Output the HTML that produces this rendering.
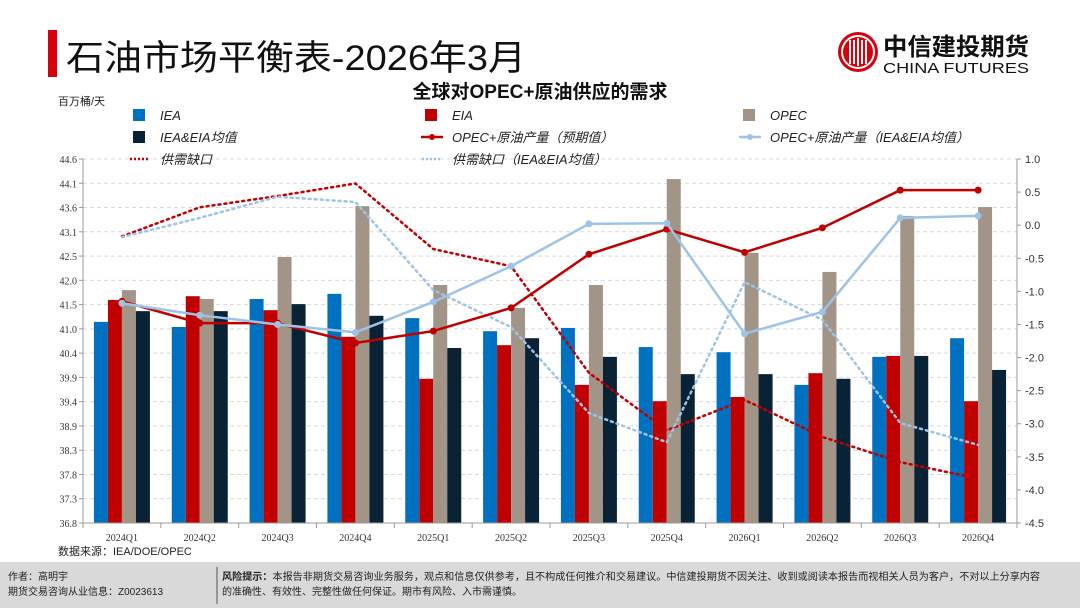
<!DOCTYPE html>
<html><head><meta charset="utf-8"><style>
html,body{margin:0;padding:0;background:#fff;}
svg{display:block;font-family:"Liberation Sans","Noto Sans CJK SC",sans-serif;}
</style></head><body>
<svg id="c" width="1080" height="608" viewBox="0 0 1080 608" xmlns="http://www.w3.org/2000/svg">
<rect x="48" y="30" width="9" height="47" fill="#d7000f"/>
<text x="66" y="70" font-size="35" fill="#111" textLength="460" lengthAdjust="spacingAndGlyphs">石油市场平衡表-2026年3月</text>
<g>
<circle cx="858" cy="52" r="20" fill="#d7000f"/>
<circle cx="858" cy="52" r="16" fill="none" stroke="#fff" stroke-width="2"/>
<path d="M850 40 v24 M854 40 v24 M858 38 v28 M862 40 v24 M866 40 v24" stroke="#fff" stroke-width="2"/>
<text x="883" y="55" font-size="24" font-weight="bold" fill="#111" textLength="146" lengthAdjust="spacingAndGlyphs">中信建投期货</text>
<text x="883" y="73" font-size="15" fill="#111" textLength="146" lengthAdjust="spacingAndGlyphs">CHINA FUTURES</text>
</g>
<text x="540" y="98" font-size="19" font-weight="bold" text-anchor="middle" fill="#111">全球对OPEC+原油供应的需求</text>
<text x="58" y="105" font-size="11" fill="#222">百万桶/天</text>
<g id="plot"></g>
<text x="58" y="555" font-size="11" fill="#222">数据来源：IEA/DOE/OPEC</text>
<rect x="0" y="562" width="1080" height="46" fill="#d9d9d9"/>
<line x1="217" y1="567" x2="217" y2="604" stroke="#555"/>
<text x="8" y="580" font-size="10" fill="#222">作者：高明宇</text>
<text x="8" y="595" font-size="10" fill="#222">期货交易咨询从业信息：Z0023613</text>
<text x="222" y="580" font-size="10" fill="#222" textLength="818" lengthAdjust="spacingAndGlyphs"><tspan font-weight="bold">风险提示：</tspan>本报告非期货交易咨询业务服务，观点和信息仅供参考，且不构成任何推介和交易建议。中信建投期货不因关注、收到或阅读本报告而视相关人员为客户，不对以上分享内容</text>
<text x="222" y="595" font-size="10" fill="#222">的准确性、有效性、完整性做任何保证。期市有风险、入市需谨慎。</text>
</svg>
<script>
const categories=["2024Q1","2024Q2","2024Q3","2024Q4","2025Q1","2025Q2","2025Q3","2025Q4","2026Q1","2026Q2","2026Q3","2026Q4"];
const iea=[41.11,41.0,41.6,41.71,41.19,40.91,40.98,40.57,40.46,39.76,40.36,40.76];
const eia=[41.58,41.66,41.36,40.79,39.89,40.61,39.76,39.41,39.5,40.01,40.38,39.41];
const opec=[41.79,41.6,42.5,43.59,41.9,41.41,41.9,44.17,42.59,42.18,43.38,43.57];
const avgIeaEia=[41.34,41.34,41.49,41.24,40.55,40.76,40.36,39.99,39.99,39.89,40.38,40.08];
const opecProdExpected=[-1.15,-1.48,-1.48,-1.78,-1.6,-1.25,-0.44,-0.06,-0.41,-0.04,0.53,0.53];
const opecProdAvg=[-1.18,-1.36,-1.5,-1.62,-1.16,-0.62,0.02,0.03,-1.64,-1.31,0.11,0.14];
const gapExpected=[-0.17,0.27,0.44,0.63,-0.36,-0.62,-2.23,-3.1,-2.64,-3.2,-3.58,-3.83];
const gapAvg=[-0.18,0.11,0.43,0.35,-0.98,-1.54,-2.84,-3.28,-0.86,-1.43,-2.99,-3.32];
const leftTicks=["44.6","44.1","43.6","43.1","42.5","42.0","41.5","41.0","40.4","39.9","39.4","38.9","38.3","37.8","37.3","36.8"];
const rightTicks=["1.0","0.5","0.0","-0.5","-1.0","-1.5","-2.0","-2.5","-3.0","-3.5","-4.0","-4.5"];

const NS="http://www.w3.org/2000/svg";
const X0=83,X1=1017,Y0=159,Y1=523;
const LMIN=36.8,LMAX=44.6,RMIN=-4.5,RMAX=1.0;
const bw=(X1-X0)/categories.length;
const xc=i=>X0+bw*(i+0.5);
const yl=v=>Y1-(v-LMIN)/(LMAX-LMIN)*(Y1-Y0);
const yr=v=>Y1-(v-RMIN)/(RMAX-RMIN)*(Y1-Y0);
const g=document.getElementById('plot');
function mk(tag,attrs,parent){const e=document.createElementNS(NS,tag);for(const k in attrs)e.setAttribute(k,attrs[k]);(parent||g).appendChild(e);return e;}

// gridlines + left ticks
leftTicks.forEach((t,i)=>{
  const y=Y0+i*(Y1-Y0)/(leftTicks.length-1);
  if(i<leftTicks.length-1){const l=mk('line',{x1:X0,x2:X1,y1:y,y2:y,stroke:'#d9d9d9','stroke-dasharray':'4,3'});
  
  }
  mk('line',{x1:X0-4,x2:X0,y1:y,y2:y,stroke:'#999'});
  const tx=mk('text',{x:X0-6,y:y+4,'font-size':10,'text-anchor':'end',fill:'#333','font-family':'Liberation Serif, serif'});
  tx.textContent=t;
  
  
});
rightTicks.forEach((t,i)=>{
  const y=Y0+i*(Y1-Y0)/(rightTicks.length-1);
  mk('line',{x1:X1,x2:X1+4,y1:y,y2:y,stroke:'#999'});
  const tx=mk('text',{x:X1+8,y:y+4,'font-size':11,fill:'#333'});
  tx.textContent=t;
  
  
});
// bars
const series=[[iea,'#0070c0','bar-iea'],[eia,'#c00000','bar-eia'],[opec,'#a29588','bar-opec'],[avgIeaEia,'#0a2236','bar-iea-eia-avg']];
const w=14;
categories.forEach((c,i)=>{
  series.forEach((s,j)=>{
    const v=s[0][i];const x=xc(i)-2*w+j*w;
    const r=mk('rect',{x:x,y:yl(v),width:w,height:Y1-yl(v),fill:s[1]});
    
    
  });
  mk('line',{x1:X0+bw*i,x2:X0+bw*i,y1:Y1,y2:Y1+5,stroke:'#999'});
  const tx=mk('text',{x:xc(i),y:Y1+18,'font-size':10,'text-anchor':'middle',fill:'#333','font-family':'Liberation Serif, serif'});
  tx.textContent=c;
  
  
});
mk('line',{x1:X1,x2:X1,y1:Y1,y2:Y1+5,stroke:'#999'});
// axes
const ax1=mk('line',{x1:X0,x2:X0,y1:Y0,y2:Y1,stroke:'#999'});


const ax2=mk('line',{x1:X1,x2:X1,y1:Y0,y2:Y1,stroke:'#999'});


const ax3=mk('line',{x1:X0,x2:X1,y1:Y1,y2:Y1,stroke:'#999'});


// lines
function line(vals,color,dotted,name){
  const pts=vals.map((v,i)=>xc(i)+','+yr(v)).join(' ');
  const p=mk('polyline',{points:pts,fill:'none',stroke:color,'stroke-width':dotted?2.5:2.5,'stroke-dasharray':dotted?'2,4':'none','stroke-linecap':dotted?'round':'butt'});
  
  
  if(!dotted)vals.forEach((v,i)=>{const c=mk('circle',{cx:xc(i),cy:yr(v),r:3.5,fill:color});
    
    });
}
line(gapExpected,'#c00000',true,'line-gap-expected');
line(gapAvg,'#9dc3e6',true,'line-gap-avg');
line(opecProdExpected,'#c00000',false,'line-opec-production-expected');
line(opecProdAvg,'#9dc3e6',false,'line-opec-production-avg');
// legend
const legend=[
 [133,115,'rect','#0070c0','IEA'],[425,115,'rect','#c00000','EIA'],[743,115,'rect','#a29588','OPEC'],
 [133,137,'rect','#0a2236','IEA&EIA均值'],[425,137,'mline','#c00000','OPEC+原油产量（预期值）'],[743,137,'mline','#9dc3e6','OPEC+原油产量（IEA&EIA均值）'],
 [133,159,'dot','#c00000','供需缺口'],[425,159,'dot','#9dc3e6','供需缺口（IEA&EIA均值）']];
legend.forEach(L=>{
  const [x,y,k,col,label]=L;
  const lg=mk('g',{});
  
  
  if(k==='rect')mk('rect',{x:x,y:y-6,width:12,height:12,fill:col},lg);
  else if(k==='mline'){mk('line',{x1:x-4,x2:x+18,y1:y,y2:y,stroke:col,'stroke-width':2.5},lg);mk('circle',{cx:x+7,cy:y,r:3,fill:col},lg);}
  else mk('line',{x1:x-3,x2:x+17,y1:y,y2:y,stroke:col,'stroke-width':2.5,'stroke-dasharray':'2,2'},lg);
  const t=mk('text',{x:x+27,y:y+5,'font-size':13,'font-style':'italic',fill:'#222'},lg);
  t.textContent=label;
});
</script>
</body></html>
